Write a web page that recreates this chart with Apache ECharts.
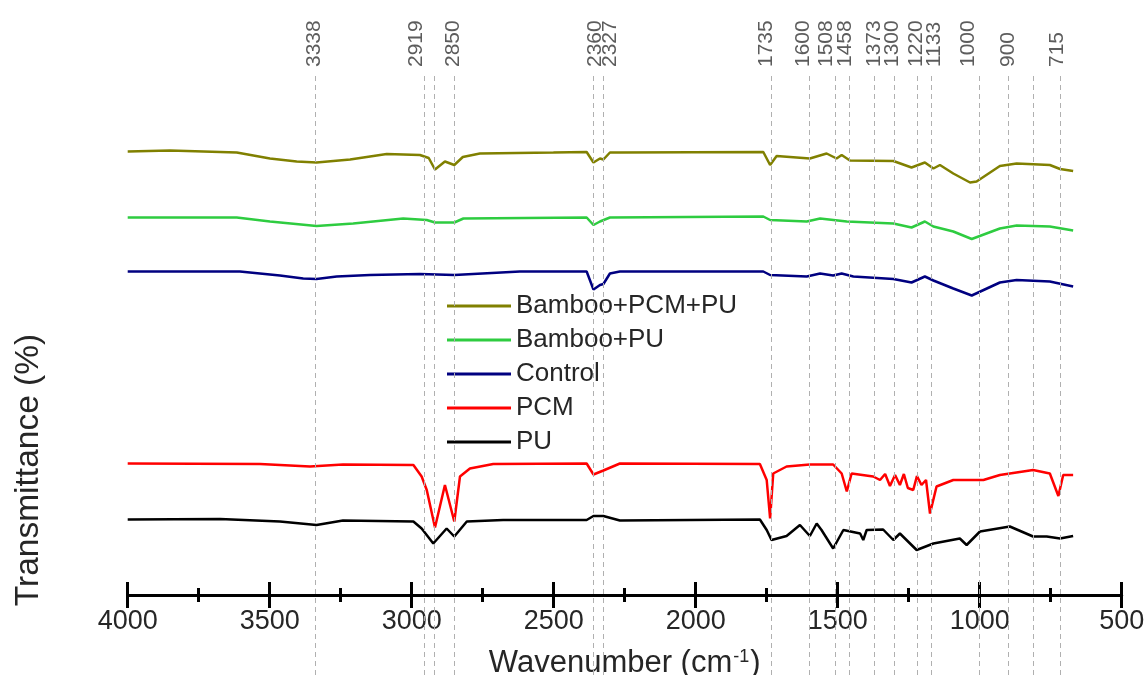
<!DOCTYPE html>
<html>
<head>
<meta charset="utf-8">
<script src="https://cdn.jsdelivr.net/npm/echarts@6/dist/echarts.min.js"></script>
<style>
html,body{margin:0;padding:0;background:#fff;}
#chart{width:1146px;height:675px;}
</style>
</head>
<body>
<div id="chart"></div>
<script>
// ---- data (wavenumber cm-1, transmittance, arbitrary offset units) ----
const seriesNames = ['Bamboo+PCM+PU', 'Bamboo+PU', 'Control', 'PCM', 'PU'];

const bambooPcmPu = [
  [4000,88.7],[3851,88.9],[3616,88.5],[3499,87.3],[3405,86.7],[3335,86.5],[3217,87.1],[3088,88.2],
  [2971,88.0],[2940,87.4],[2918,85.1],[2883,86.7],[2850,86.0],[2820,87.6],[2760,88.3],[2501,88.5],
  [2384,88.6],[2360,86.5],[2337,87.3],[2325,87.1],[2302,88.5],[2267,88.5],[1762,88.6],[1738,86.0],
  [1715,87.8],[1598,87.3],[1539,88.3],[1504,87.3],[1486,88.0],[1457,86.9],[1304,86.8],[1240,85.5],
  [1193,86.5],[1163,85.3],[1140,86.0],[1093,84.3],[1034,82.5],[1011,82.7],[929,85.8],[870,86.3],
  [753,86.0],[717,85.2],[671,84.8]
];
const bambooPu = [
  [4000,75.5],[3616,75.5],[3499,74.7],[3335,73.8],[3206,74.3],[3030,75.3],[2947,75.0],[2918,74.5],
  [2850,74.5],[2818,75.3],[2384,75.5],[2360,74.0],[2337,74.7],[2302,75.5],[1762,75.7],[1738,75.0],
  [1609,74.7],[1562,75.3],[1468,74.7],[1304,74.3],[1240,73.5],[1193,74.7],[1163,73.7],[1093,72.7],
  [1028,71.2],[929,73.3],[870,73.9],[753,73.7],[671,72.9]
];
const control = [
  [4000,64.7],[3605,64.7],[3464,63.9],[3382,63.3],[3335,63.2],[3264,63.7],[3147,64.0],[2971,64.2],
  [2850,64.0],[2619,64.7],[2384,64.7],[2360,61.1],[2337,62.0],[2325,62.2],[2302,64.3],[2267,64.7],
  [1762,64.7],[1738,64.0],[1609,63.7],[1562,64.3],[1516,63.9],[1486,64.3],[1445,63.7],[1304,63.2],
  [1240,62.5],[1193,63.7],[1163,62.9],[1093,61.3],[1028,59.9],[929,62.5],[870,63.0],[753,62.7],[671,61.7]
];
const pcm = [
  [4000,26.3],[3534,26.2],[3358,25.7],[3242,26.1],[2994,26.0],[2965,23.7],[2947,21.0],[2918,13.5],
  [2883,22.0],[2850,14.7],[2830,23.7],[2795,25.3],[2713,26.2],[2384,26.3],[2360,24.1],[2325,24.9],
  [2267,26.3],[1774,26.2],[1750,23.0],[1738,15.3],[1727,24.3],[1680,25.7],[1598,26.1],[1516,26.1],
  [1486,24.3],[1468,20.7],[1451,24.3],[1375,23.7],[1351,23.0],[1333,24.2],[1316,21.8],[1298,24.0],
  [1281,22.0],[1267,24.2],[1253,21.4],[1234,21.0],[1221,23.8],[1205,22.0],[1189,23.0],[1175,16.3],
  [1152,21.7],[1093,23.0],[987,23.0],[929,24.0],[812,25.0],[753,24.3],[723,19.8],[706,24.0],[671,24.0]
];
const pu = [
  [4000,15.1],[3675,15.2],[3464,14.7],[3335,14.0],[3242,14.9],[2994,14.7],[2965,13.3],[2924,10.3],
  [2877,13.3],[2850,11.7],[2806,14.7],[2678,15.0],[2384,15.0],[2360,15.8],[2325,15.8],[2267,14.9],
  [1774,15.1],[1750,13.0],[1733,11.0],[1680,11.8],[1633,14.0],[1598,11.8],[1574,14.3],[1557,13.0],
  [1516,9.3],[1480,13.0],[1421,12.3],[1410,11.0],[1398,13.0],[1340,13.1],[1304,11.0],[1281,12.3],
  [1222,9.0],[1163,10.3],[1070,11.3],[1046,10.0],[999,12.7],[894,13.7],[812,11.7],[764,11.7],
  [717,11.3],[671,11.8]
];

// peak annotations
const peakLabels = ['3338','2919','2850','2360','2327','1735','1600','1508','1458','1373','1300','1220','1133','1000','900','715'];
const peakLabelAt = [3344,2983,2853,2353,2302,1753,1622,1541,1474,1372,1307,1224,1159,1039,900,728];
const guideLines = [3338,2955,2919,2850,2360,2327,1735,1600,1508,1458,1373,1300,1220,1170,1000,900,812,715];

// axis
const xMin = 500, xMax = 4000, xStep = 500;
const yMin = -16, yMax = 104;

const font = "'Liberation Sans', Arial, sans-serif";
const txt = '#262626';

const colors = ['#808000', '#2ecc40', '#000080', '#ff0000', '#000000'];
const allData = [bambooPcmPu, bambooPu, control, pcm, pu];

const chart = echarts.init(document.getElementById('chart'), null, {renderer: 'canvas'});

const lineSeries = allData.map((d, i) => ({
  name: seriesNames[i],
  type: 'line',
  data: d,
  showSymbol: false,
  symbol: 'none',
  z: 3,
  lineStyle: {color: colors[i], width: 2.5},
  itemStyle: {color: colors[i]},
  animation: false
}));

const xCommon = {
  type: 'value', min: xMin, max: xMax, interval: xStep, inverse: true,
  position: 'bottom', offset: -80,
  splitLine: {show: false}
};

const option = {
  animation: false,
  grid: {left: 127.7, right: 24.3, top: 75, bottom: 0, containLabel: false, outerBoundsMode: 'none'},
  legend: {
    data: seriesNames,
    orient: 'vertical',
    left: 447, top: 291, padding: 0,
    icon: 'rect', itemWidth: 64, itemHeight: 3, itemGap: 4,
    textStyle: {fontFamily: font, fontSize: 26, color: txt, lineHeight: 30}
  },
  xAxis: [
    Object.assign({}, xCommon, {
      axisLine: {show: true, onZero: false, lineStyle: {color: '#000', width: 3}},
      axisTick: {show: true, inside: false, length: 13, lineStyle: {color: '#000', width: 3}},
      minorTick: {show: true, splitNumber: 2, length: 7, lineStyle: {color: '#000', width: 3}},
      axisLabel: {show: true, margin: 13, fontFamily: font, fontSize: 27, color: txt, formatter: v => String(v)},
      name: 'Wavenumber (cm{sup|-1})',
      nameLocation: 'middle', nameGap: 53,
      nameTextStyle: {
        fontFamily: font, fontSize: 31, color: txt,
        rich: {sup: {fontFamily: font, fontSize: 18, color: txt, verticalAlign: 'top', padding: [0, 1, 0, 1]}}
      }
    }),
    Object.assign({}, xCommon, {
      axisLine: {show: false, onZero: false},
      axisTick: {show: true, inside: true, length: 13, lineStyle: {color: '#000', width: 3}},
      minorTick: {show: true, splitNumber: 2, length: 7, lineStyle: {color: '#000', width: 3}},
      axisLabel: {show: false}
    })
  ],
  yAxis: {
    type: 'value', min: yMin, max: yMax,
    axisLine: {show: false}, axisTick: {show: false}, axisLabel: {show: false}, splitLine: {show: false}
  },
  graphic: [{
    type: 'text', x: 29, y: 470, rotation: Math.PI / 2,
    style: {text: 'Transmittance (%)', font: "33.5px " + font, fill: txt, align: 'center', verticalAlign: 'middle'}
  }],
  series: lineSeries.concat([{
    name: 'peaks',
    type: 'scatter',
    symbolSize: 0,
    z: 1,
    silent: true,
    data: peakLabelAt.map((x, i) => [x, yMax, peakLabels[i]]),
    label: {
      show: true, position: 'top', distance: 8, rotate: 90,
      align: 'left', verticalAlign: 'middle',
      fontFamily: font, fontSize: 21, color: '#333',
      formatter: p => p.value[2]
    },
    markLine: {
      silent: true, symbol: 'none', animation: false,
      label: {show: false},
      lineStyle: {color: '#b0b0b0', type: [5, 4], width: 1},
      data: guideLines.map(v => ({xAxis: v}))
    }
  }])
};
chart.setOption(option);
</script>
</body>
</html>
